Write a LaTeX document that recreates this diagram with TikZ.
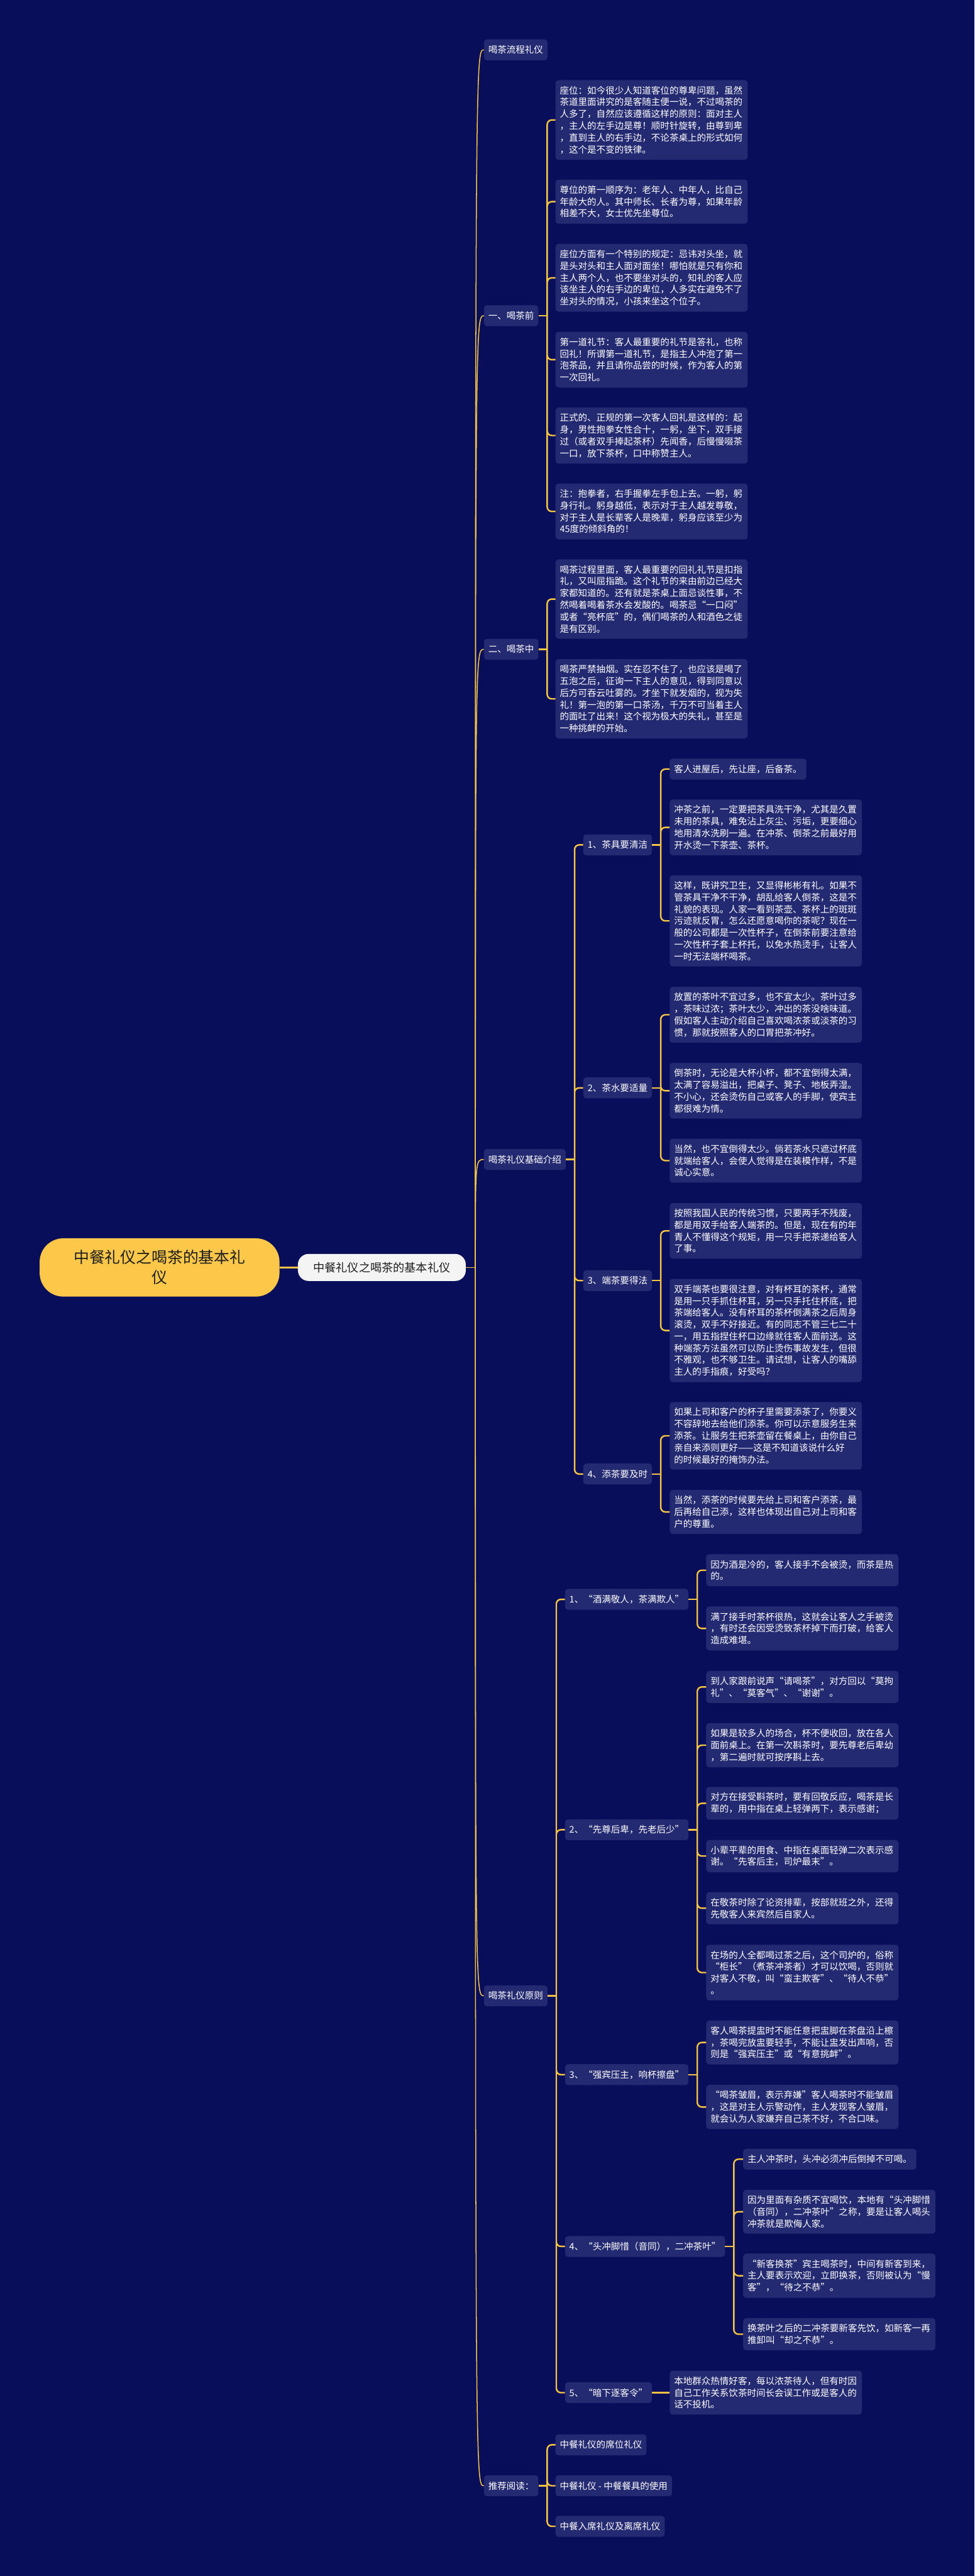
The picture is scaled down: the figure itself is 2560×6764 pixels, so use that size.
\documentclass[tikz,border=0pt]{standalone}
\usepackage{fontspec}
\newfontfamily\cjk{Noto Sans CJK SC}
\usetikzlibrary{positioning}

\definecolor{bgc}{HTML}{080E59}
\definecolor{boxc}{HTML}{242A72}
\definecolor{linec}{HTML}{F5C443}
\definecolor{rootc}{HTML}{FDC84A}
\definecolor{mainc}{HTML}{F4F4F4}
\definecolor{inkc}{HTML}{1E1E1E}

\begin{document}
\begin{tikzpicture}[
  x=1pt, y=-1pt,
  b/.style={anchor=west, rounded corners=8pt, fill=boxc, text=white,
            font=\cjk\fontsize{24}{31}\selectfont, inner xsep=11.5pt, inner ysep=15.5pt},
  lab/.style={b, minimum height=55pt, inner ysep=0pt},
  txt/.style={b, text width=482pt, align=left},
  rootb/.style={anchor=west, rounded corners=62pt, fill=rootc, text=inkc, align=center,
            font=\cjk\fontsize{41}{53}\selectfont, text width=452pt,
            minimum width=630pt, minimum height=153pt},
  mainb/.style={rounded corners=28pt, fill=mainc, text=inkc,
            font=\cjk\fontsize{30}{36}\selectfont, minimum width=441pt, minimum height=71pt},
  a/.style={draw=linec, line width=4pt},
  trunk/.style={draw=linec, line width=2.5pt},
  br/.style={draw=linec, line width=4pt, rounded corners=12pt},
]
\useasboundingbox (0,0) rectangle (2560,6764);
\fill[bgc] (0,0) rectangle (2560,6764);

% root and main topic
\node[rootb] (root) at (104,3328) {中餐礼仪之喝茶的基本礼\\仪};
\node[mainb, right=48pt of root] (main) {中餐礼仪之喝茶的基本礼仪};

% second column
\node[lab] (flow) at (1271,131) {喝茶流程礼仪};
\node[lab] (pre) at (1271,829) {一、喝茶前};
\node[lab] (mid) at (1271,1705) {二、喝茶中};
\node[lab] (base) at (1271,3044.5) {喝茶礼仪基础介绍};
\node[lab] (rule) at (1271,5240.5) {喝茶礼仪原则};
\node[lab] (more) at (1271,6527) {推荐阅读：};

% before tea
\node[txt] (pre1) at (1459,315) {座位：如今很少人知道客位的尊卑问题，虽然\\茶道里面讲究的是客随主便一说，不过喝茶的\\人多了，自然应该遵循这样的原则：面对主人\\，主人的左手边是尊！顺时针旋转，由尊到卑\\，直到主人的右手边，不论茶桌上的形式如何\\，这个是不变的铁律。};
\node[txt] (pre2) at (1459,529.5) {尊位的第一顺序为：老年人、中年人，比自己\\年龄大的人。其中师长、长者为尊，如果年龄\\相差不大，女士优先坐尊位。};
\node[txt] (pre3) at (1459,729.5) {座位方面有一个特别的规定：忌讳对头坐，就\\是头对头和主人面对面坐！哪怕就是只有你和\\主人两个人，也不要坐对头的，知礼的客人应\\该坐主人的右手边的卑位，人多实在避免不了\\坐对头的情况，小孩来坐这个位子。};
\node[txt] (pre4) at (1459,944.5) {第一道礼节：客人最重要的礼节是答礼，也称\\回礼！所谓第一道礼节，是指主人冲泡了第一\\泡茶品，并且请你品尝的时候，作为客人的第\\一次回礼。};
\node[txt] (pre5) at (1459,1143.5) {正式的、正规的第一次客人回礼是这样的：起\\身，男性抱拳女性合十，一躬，坐下，双手接\\过（或者双手捧起茶杯）先闻香，后慢慢啜茶\\一口，放下茶杯，口中称赞主人。};
\node[txt] (pre6) at (1459,1343) {注：抱拳者，右手握拳左手包上去。一躬，躬\\身行礼。躬身越低，表示对于主人越发尊敬，\\对于主人是长辈客人是晚辈，躬身应该至少为\\45度的倾斜角的！};

% during tea
\node[txt] (mid1) at (1459,1573) {喝茶过程里面，客人最重要的回礼礼节是扣指\\礼，又叫屈指跪。这个礼节的来由前边已经大\\家都知道的。还有就是茶桌上面忌谈性事，不\\然喝着喝着茶水会发酸的。喝茶忌“一口闷”\\或者“亮杯底”的，偶们喝茶的人和酒色之徒\\是有区别。};
\node[txt] (mid2) at (1459,1835) {喝茶严禁抽烟。实在忍不住了，也应该是喝了\\五泡之后，征询一下主人的意见，得到同意以\\后方可吞云吐雾的。才坐下就发烟的，视为失\\礼！第一泡的第一口茶汤，千万不可当着主人\\的面吐了出来！这个视为极大的失礼，甚至是\\一种挑衅的开始。};

% basics
\node[lab] (clean) at (1532,2218.5) {1、茶具要清洁};
\node[lab] (amount) at (1532,2856.5) {2、茶水要适量};
\node[lab] (serve) at (1532,3362.5) {3、端茶要得法};
\node[lab] (refill) at (1532,3870.5) {4、添茶要及时};

\node[lab] (clean1) at (1759,2019.5) {客人进屋后，先让座，后备茶。};
\node[txt] (clean2) at (1759,2172.5) {冲茶之前，一定要把茶具洗干净，尤其是久置\\未用的茶具，难免沾上灰尘、污垢，更要细心\\地用清水洗刷一遍。在冲茶、倒茶之前最好用\\开水烫一下茶壶、茶杯。};
\node[txt] (clean3) at (1759,2418) {这样，既讲究卫生，又显得彬彬有礼。如果不\\管茶具干净不干净，胡乱给客人倒茶，这是不\\礼貌的表现。人家一看到茶壶、茶杯上的斑斑\\污迹就反胃，怎么还愿意喝你的茶呢？现在一\\般的公司都是一次性杯子，在倒茶前要注意给\\一次性杯子套上杯托，以免水热烫手，让客人\\一时无法端杯喝茶。};
\node[txt] (amount1) at (1759,2664.5) {放置的茶叶不宜过多，也不宜太少。茶叶过多\\，茶味过浓；茶叶太少，冲出的茶没啥味道。\\假如客人主动介绍自己喜欢喝浓茶或淡茶的习\\惯，那就按照客人的口胃把茶冲好。};
\node[txt] (amount2) at (1759,2864) {倒茶时，无论是大杯小杯，都不宜倒得太满，\\太满了容易溢出，把桌子、凳子、地板弄湿。\\不小心，还会烫伤自己或客人的手脚，使宾主\\都很难为情。};
\node[txt] (amount3) at (1759,3047.5) {当然，也不宜倒得太少。倘若茶水只遮过杯底\\就端给客人，会使人觉得是在装模作样，不是\\诚心实意。};
\node[txt] (serve1) at (1759,3232) {按照我国人民的传统习惯，只要两手不残废，\\都是用双手给客人端茶的。但是，现在有的年\\青人不懂得这个规矩，用一只手把茶递给客人\\了事。};
\node[txt] (serve2) at (1759,3493.5) {双手端茶也要很注意，对有杯耳的茶杯，通常\\是用一只手抓住杯耳，另一只手托住杯底，把\\茶端给客人。没有杯耳的茶杯倒满茶之后周身\\滚烫，双手不好接近。有的同志不管三七二十\\一，用五指捏住杯口边缘就往客人面前送。这\\种端茶方法虽然可以防止烫伤事故发生，但很\\不雅观，也不够卫生。请试想，让客人的嘴舔\\主人的手指痕，好受吗？};
\node[txt] (refill1) at (1759,3770) {如果上司和客户的杯子里需要添茶了，你要义\\不容辞地去给他们添茶。你可以示意服务生来\\添茶。让服务生把茶壶留在餐桌上，由你自己\\亲自来添则更好——这是不知道该说什么好\\的时候最好的掩饰办法。};
\node[txt] (refill2) at (1759,3970) {当然，添茶的时候要先给上司和客户添茶，最\\后再给自己添，这样也体现出自己对上司和客\\户的尊重。};

% principles
\node[lab] (full) at (1484,4199.5) {1、“酒满敬人，茶满欺人”};
\node[lab] (order) at (1484,4804.5) {2、“先尊后卑，先老后少”};
\node[lab] (press) at (1484,5447.5) {3、“强宾压主，响杯擦盘”};
\node[lab] (first) at (1484,5898.5) {4、“头冲脚惜（音同），二冲茶叶”};
\node[lab] (hint) at (1484,6282.5) {5、“暗下逐客令”};

\node[txt] (full1) at (1855,4123) {因为酒是冷的，客人接手不会被烫，而茶是热\\的。};
\node[txt] (full2) at (1855,4276) {满了接手时茶杯很热，这就会让客人之手被烫\\，有时还会因受烫致茶杯掉下而打破，给客人\\造成难堪。};
\node[txt] (order1) at (1855,4429.5) {到人家跟前说声“请喝茶”，对方回以“莫拘\\礼”、“莫客气”、“谢谢”。};
\node[txt] (order2) at (1855,4582.5) {如果是较多人的场合，杯不便收回，放在各人\\面前桌上。在第一次斟茶时，要先尊老后卑幼\\，第二遍时就可按序斟上去。};
\node[txt] (order3) at (1855,4735) {对方在接受斟茶时，要有回敬反应，喝茶是长\\辈的，用中指在桌上轻弹两下，表示感谢；};
\node[txt] (order4) at (1855,4873.5) {小辈平辈的用食、中指在桌面轻弹二次表示感\\谢。“先客后主，司炉最末”。};
\node[txt] (order5) at (1855,5010.5) {在敬茶时除了论资排辈，按部就班之外，还得\\先敬客人来宾然后自家人。};
\node[txt] (order6) at (1855,5179.5) {在场的人全都喝过茶之后，这个司炉的，俗称\\“柜长”（煮茶冲茶者）才可以饮喝，否则就\\对客人不敬，叫“蛮主欺客”、“待人不恭”\\。};
\node[txt] (press1) at (1855,5363) {客人喝茶提盅时不能任意把盅脚在茶盘沿上檫\\，茶喝完放盅要轻手，不能让盅发出声响，否\\则是“强宾压主”或“有意挑衅”。};
\node[txt] (press2) at (1855,5532.5) {“喝茶皱眉，表示弃嫌”客人喝茶时不能皱眉\\，这是对主人示警动作，主人发现客人皱眉，\\就会认为人家嫌弃自己茶不好，不合口味。};
\node[lab] (first1) at (1952,5669.5) {主人冲茶时，头冲必须冲后倒掉不可喝。};
\node[txt] (first2) at (1952,5807.5) {因为里面有杂质不宜喝饮，本地有“头冲脚惜\\（音同），二冲茶叶”之称，要是让客人喝头\\冲茶就是欺侮人家。};
\node[txt] (first3) at (1952,5975.5) {“新客换茶”宾主喝茶时，中间有新客到来，\\主人要表示欢迎，立即换茶，否则被认为“慢\\客”，“待之不恭”。};
\node[txt] (first4) at (1952,6129) {换茶叶之后的二冲茶要新客先饮，如新客一再\\推卸叫“却之不恭”。};
\node[txt] (hint1) at (1759,6282.5) {本地群众热情好客，每以浓茶待人，但有时因\\自己工作关系饮茶时间长会误工作或是客人的\\话不投机。};

% further reading
\node[lab] (more1) at (1459,6419.5) {中餐礼仪的席位礼仪};
\node[lab] (more2) at (1459,6527) {中餐礼仪 - 中餐餐具的使用};
\node[lab] (more3) at (1459,6633.5) {中餐入席礼仪及离席礼仪};

% connectors: root -> main -> second column
\draw[a] (root) -- (main);
\draw[trunk] (main.east) -- ++(25,0) coordinate (fork);
\draw[trunk] (fork) .. controls (fork |- flow.west) .. (flow.west);
\draw[trunk] (fork) .. controls (fork |- pre.west) .. (pre.west);
\draw[trunk] (fork) .. controls (fork |- mid.west) .. (mid.west);
\draw[trunk] (fork) .. controls (fork |- base.west) .. (base.west);
\draw[trunk] (fork) .. controls (fork |- rule.west) .. (rule.west);
\draw[trunk] (fork) .. controls (fork |- more.west) .. (more.west);

% brackets
\draw[br] (pre.east) -- ++(23,0) coordinate (vpre);
\draw[br] (vpre) |- (pre1.west) (vpre) |- (pre2.west) (vpre) |- (pre3.west)
          (vpre) |- (pre4.west) (vpre) |- (pre5.west) (vpre) |- (pre6.west);
\draw[br] (mid.east) -- ++(23,0) coordinate (vmid);
\draw[br] (vmid) |- (mid1.west) (vmid) |- (mid2.west);

\draw[br] (base.east) -- ++(23,0) coordinate (vbase);
\draw[br] (vbase) |- (clean.west) (vbase) |- (amount.west) (vbase) |- (serve.west) (vbase) |- (refill.west);
\draw[br] (clean.east) -- ++(23,0) coordinate (vclean);
\draw[br] (vclean) |- (clean1.west) (vclean) |- (clean2.west) (vclean) |- (clean3.west);
\draw[br] (amount.east) -- ++(23,0) coordinate (vamount);
\draw[br] (vamount) |- (amount1.west) (vamount) |- (amount2.west) (vamount) |- (amount3.west);
\draw[br] (serve.east) -- ++(23,0) coordinate (vserve);
\draw[br] (vserve) |- (serve1.west) (vserve) |- (serve2.west);
\draw[br] (refill.east) -- ++(23,0) coordinate (vrefill);
\draw[br] (vrefill) |- (refill1.west) (vrefill) |- (refill2.west);

\draw[br] (rule.east) -- ++(23,0) coordinate (vrule);
\draw[br] (vrule) |- (full.west) (vrule) |- (order.west) (vrule) |- (press.west)
          (vrule) |- (first.west) (vrule) |- (hint.west);
\draw[br] (full.east) -- ++(23,0) coordinate (vfull);
\draw[br] (vfull) |- (full1.west) (vfull) |- (full2.west);
\draw[br] (order.east) -- ++(23,0) coordinate (vorder);
\draw[br] (vorder) |- (order1.west) (vorder) |- (order2.west) (vorder) |- (order3.west)
          (vorder) |- (order4.west) (vorder) |- (order5.west) (vorder) |- (order6.west);
\draw[br] (press.east) -- ++(23,0) coordinate (vpress);
\draw[br] (vpress) |- (press1.west) (vpress) |- (press2.west);
\draw[br] (first.east) -- ++(23,0) coordinate (vfirst);
\draw[br] (vfirst) |- (first1.west) (vfirst) |- (first2.west) (vfirst) |- (first3.west) (vfirst) |- (first4.west);
\draw[br] (hint.east) -- (hint1.west);

\draw[br] (more.east) -- ++(23,0) coordinate (vmore);
\draw[br] (vmore) |- (more1.west) (vmore) |- (more2.west) (vmore) |- (more3.west);
\end{tikzpicture}
\end{document}
